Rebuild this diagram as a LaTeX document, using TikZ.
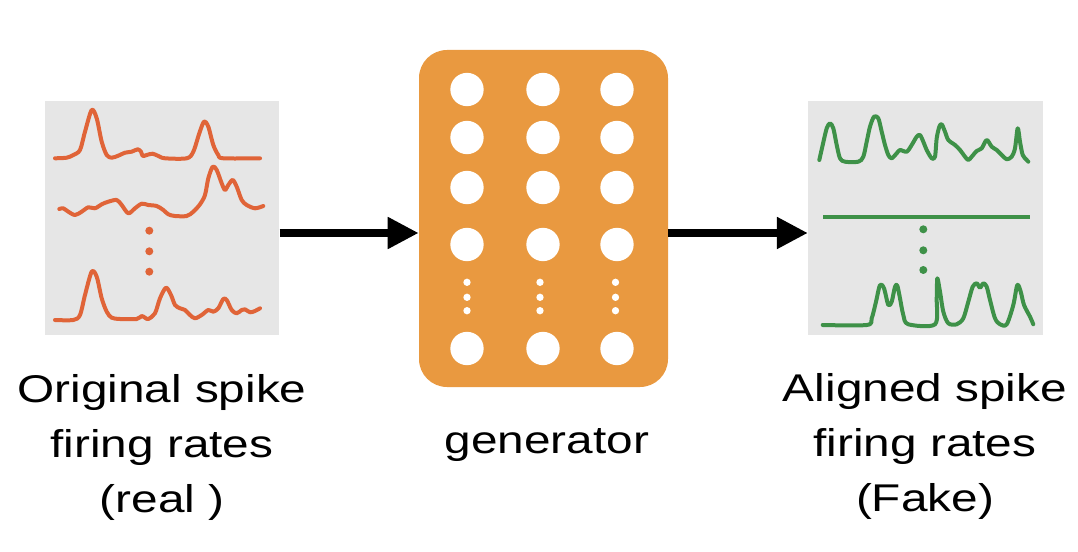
\documentclass[tikz,border=0pt]{standalone}
\usepackage{fontspec}
\newfontfamily\labelfont[FakeStretch=1.235]{Liberation Sans}
\definecolor{panelgray}{RGB}{230,230,230}
\definecolor{realorange}{RGB}{224,100,56}
\definecolor{fakegreen}{RGB}{62,145,72}
\definecolor{genorange}{RGB}{233,153,64}
\usetikzlibrary{arrows.meta}
\tikzset{
    panel/.style={fill=panelgray, inner sep=0pt, minimum width=176pt, minimum height=175.5pt},
    genbox/.style={fill=genorange, rounded corners=21pt, inner sep=0pt, minimum width=186.75pt, minimum height=252.75pt},
    unit/.style={circle, fill=white, inner sep=0pt, minimum size=25pt},
    realsig/.style={draw=realorange, line width=3pt, line join=round, line cap=round},
    fakesig/.style={draw=fakegreen, line width=3pt, line join=round, line cap=round},
    flow/.style={line width=6pt, -{Triangle[length=23.25pt, width=22.5pt]}},
    caption/.style={align=center, anchor=base, inner sep=0pt, font=\labelfont\fontsize{29pt}{41.25pt}\selectfont}
}
\begin{document}
\begin{tikzpicture}[x=0.75pt, y=-0.75pt]
                \useasboundingbox (0,0) rectangle (1078,552);
                \node[panel] (orig) at (162,218) {};
                \node[panel] (fake) at (925.5,218) {};
                \node[genbox] (gen) at (543.5,218.5) {};
                \coordinate (mid) at (0,233);
                \draw[flow] (orig.east |- mid) -- (gen.west |- mid);
                \draw[flow] (gen.east |- mid) -- (fake.west |- mid);
                \foreach \c/\x in {1/467,2/543,3/617}
                    \foreach \r/\y in {1/89.5,2/137.5,3/187.5,4/244.5,5/348.5}
                        \node[unit] (u\c\r) at (\x,\y) {};
                \foreach \x in {467,540,615.5}
                    \foreach \y in {282.3,297.3,310.7}
                        \fill[white] (\x,\y) circle (2.75pt);
                \draw[realsig] plot[smooth, tension=0.5] coordinates {(55,158.3) (66.7,157.7) (73.3,155) (80,150) (85,131.7) (91.7,110) (96.7,118.3) (101.7,141.7) (106.7,155) (111.7,157.7) (118.3,155.7) (125,152.7) (131.7,151.7) (137.7,149.3) (141,151.7) (142.7,156) (146.7,155) (152.7,153.7) (158.3,156) (165,158.3) (186.7,158.3) (193.3,151.7) (199.3,133.3) (204,121.7) (208.3,126.7) (213.3,145) (218.3,155) (223.3,158.3) (260,158.3)};
                \draw[realsig] plot[smooth, tension=0.5] coordinates {(59.3,209) (63.3,208.3) (68.3,211.7) (75,215) (81.7,211.7) (88.3,207.3) (95,208.3) (101.7,204.3) (108.3,201.7) (116.7,200) (121.7,205) (128.3,213.3) (135,208.3) (141.7,203.7) (148.3,205) (156.7,206) (163.3,210) (168.3,214.3) (175,216) (186.7,216) (193.3,211.7) (200,204.3) (205,195) (208.3,178.3) (212.7,166.7) (216.7,170) (221.7,183.3) (225,190) (228.3,185) (232.7,180) (236.7,186.7) (241.7,200) (246.7,205) (255,208.3) (263.3,206)};
                \draw[realsig] plot[smooth, tension=0.5] coordinates {(55,320) (73.3,320) (80,315) (85,295) (91.7,271.7) (96.7,276.7) (101.7,298.3) (106.7,311.7) (111.7,317.7) (120,319) (136.7,319) (141.7,316) (145,317.7) (148.3,319) (155,313.3) (160,298.3) (166,287.7) (171,295) (175,305) (180,308.3) (185,310) (190,315) (195,318.3) (201.7,315) (208.3,310) (213.3,311.7) (218.3,308.3) (223.3,299) (226.7,300) (231.7,310) (236.7,313.3) (241.7,310) (245,309.3) (250,312.3) (255,311) (260,308.3)};
                \foreach \y in {230.7,251.3,271.7}
                    \fill[realorange] (149.3,\y) circle (3pt);
                \draw[fakesig] plot[smooth, tension=0.5] coordinates {(819.3,160) (822.7,145) (826.7,128.3) (830,123.3) (833.3,128.3) (836.7,145) (840,158.3) (845,161.7) (858.3,161.7) (863.3,156.7) (866.7,141.7) (870,126.7) (874,116.7) (878.3,118.3) (881.7,131.7) (885,145) (888.3,155) (891.7,158.3) (896.7,153.3) (900,150) (906.7,151.7) (911.7,145) (916.7,136.7) (920,135) (923.3,141.7) (926.7,150) (931.7,158.3) (935,156.7) (936.7,138.3) (939.3,126.7) (941.7,124.3) (945,131.7) (948.3,140) (955,145) (960,150) (965,156.7) (968.3,160) (971.7,156.7) (976.7,151) (981.7,148.3) (986.7,140) (991.7,146.7) (996.7,150) (1001.7,155) (1006.7,159.3) (1011.7,156.7) (1015,148.3) (1017.7,128.3) (1020,141.7) (1022.7,155) (1026.7,160) (1028.3,161.7)};
                \draw[fakesig, line cap=butt] (823.3,216.7) -- (1030,216.7);
                \foreach \y in {229.3,250.3,270}
                    \fill[fakegreen] (923.3,\y) circle (3pt);
                \draw[fakesig] plot[smooth, tension=0.5] coordinates {(822.7,325) (866.7,325) (871.7,318.3) (876,301.7) (880,285) (884,288.3) (888.3,305) (891.7,301.7) (895,286.7) (897.3,285.7) (900,298.3) (903.3,315) (908.3,324.3) (935,324.3) (936.7,298.3) (937.3,278.3) (940,291.7) (943.3,311.7) (948.3,323.3) (956.7,324.3) (963.3,318.3) (968.3,301.7) (972.7,286.7) (976.7,283.3) (980,287.7) (983.3,283.3) (986.7,286.7) (990,300) (995,318.3) (1000,324.3) (1006.7,324.3) (1013.3,305) (1017.3,285) (1020.7,291.7) (1024,305) (1030,316.7) (1033.3,324.3)};
                \node[caption] (origtxt) at (162,512.7) {Original spike\\firing rates\\(real )};
                \node[caption] (gentxt) at (547,453) {generator};
                \node[caption] (faketxt) at (925,511.7) {Aligned spike\\firing rates\\(Fake)};
\end{tikzpicture}
\end{document}
